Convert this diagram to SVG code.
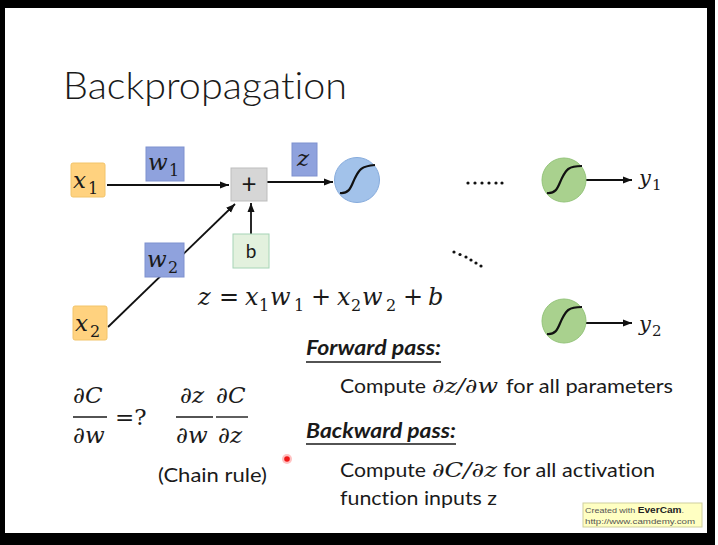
<svg xmlns="http://www.w3.org/2000/svg" width="718" height="545" viewBox="0 0 718 545">
<style>
.sans{font-family:Lato,"Liberation Sans",sans-serif;fill:#1a1a1a;font-variant-ligatures:none}
.math{font-family:"DejaVu Serif","Liberation Serif",serif;font-style:italic;fill:#1a1a1a}
.sub{font-family:"DejaVu Serif","Liberation Serif",serif;font-style:normal;fill:#1a1a1a}
.xbox{fill:#FFD27F;stroke:#F2C46A;stroke-width:1}
.wbox{fill:#8FA2DD;stroke:#7E91CF;stroke-width:1}
.conn{stroke:#111;stroke-width:1.8;fill:none}
.sig{stroke:#111;stroke-width:2.2;fill:none}
.frac{stroke:#1a1a1a;stroke-width:1.4}
</style>
<defs>
<marker id="ah" markerUnits="userSpaceOnUse" markerWidth="10" markerHeight="8" refX="9" refY="4" orient="auto">
<path d="M0,0.5 L9,4 L0,7.5 Z" fill="#111"/>
</marker>
</defs>
<rect x="0" y="0" width="718" height="545" fill="#000"/>
<rect x="5" y="8" width="702" height="525" fill="#fff"/>
<rect x="715" y="0" width="3" height="545" fill="#fff"/>

<text class="sans" x="63" y="99" font-size="38" font-weight="300" textLength="284" lengthAdjust="spacingAndGlyphs" fill="#222">Backpropagation</text>

<g id="connectors">
<line class="conn" x1="107" y1="185" x2="229" y2="185" marker-end="url(#ah)"/>
<line class="conn" x1="108" y1="327" x2="235" y2="204" marker-end="url(#ah)"/>
<line class="conn" x1="251" y1="234" x2="251" y2="203" marker-end="url(#ah)"/>
<line class="conn" x1="267" y1="182" x2="333" y2="182" marker-end="url(#ah)"/>
<line class="conn" x1="586" y1="180" x2="632" y2="180" marker-end="url(#ah)"/>
<line class="conn" x1="586" y1="323" x2="632" y2="323" marker-end="url(#ah)"/>
</g>

<g id="x1">
<rect class="xbox" x="71" y="163" width="34" height="34" rx="2"/>
<text class="math" x="73" y="188" font-size="23">x</text>
<text class="sub" x="88" y="194" font-size="16">1</text>
</g>
<g id="w1">
<rect class="wbox" x="146" y="147" width="38" height="34"/>
<text class="math" x="148" y="170" font-size="23">w</text>
<text class="sub" x="169" y="176" font-size="16">1</text>
</g>
<g id="plus">
<rect x="231" y="168" width="36" height="33" fill="#D6D6D6" stroke="#BDBDBD" stroke-width="1"/>
<text class="sans" x="249" y="193" font-size="26" text-anchor="middle" fill="#333">+</text>
</g>
<g id="z">
<rect class="wbox" x="292" y="143" width="25" height="33"/>
<text class="math" x="297" y="166" font-size="23">z</text>
</g>
<g id="sigma">
<circle cx="357" cy="180" r="22.5" fill="#A2C2EA" stroke="#86ABDC" stroke-width="1"/>
<path class="sig" d="M340,193 C350,194 351,186 355,178 C359,170 361,166 375,165"/>
</g>
<g id="b">
<rect x="233" y="234" width="36" height="34" fill="#E3F1DE" stroke="#A6D4B6" stroke-width="1"/>
<text class="sans" x="251" y="258" font-size="19" text-anchor="middle">b</text>
</g>
<g id="w2">
<rect class="wbox" x="145" y="243" width="39" height="34"/>
<text class="math" x="147" y="267" font-size="23">w</text>
<text class="sub" x="168" y="273" font-size="16">2</text>
</g>
<g id="x2">
<rect class="xbox" x="73" y="306" width="34" height="34" rx="2"/>
<text class="math" x="75" y="331" font-size="23">x</text>
<text class="sub" x="90" y="337" font-size="16">2</text>
</g>

<g id="formula">
<text class="math" x="198" y="305" font-size="24">z</text>
<text class="sub" x="219" y="305" font-size="24">=</text>
<text class="math" x="245" y="305" font-size="24">x</text>
<text class="sub" x="259" y="311" font-size="16">1</text>
<text class="math" x="270" y="305" font-size="24">w</text>
<text class="sub" x="294" y="311" font-size="16">1</text>
<text class="sub" x="311" y="305" font-size="24">+</text>
<text class="math" x="337" y="305" font-size="24">x</text>
<text class="sub" x="351" y="311" font-size="16">2</text>
<text class="math" x="362" y="305" font-size="24">w</text>
<text class="sub" x="386" y="311" font-size="16">2</text>
<text class="sub" x="403" y="305" font-size="24">+</text>
<text class="math" x="428" y="305" font-size="24">b</text>
</g>

<g id="dots">
<circle cx="468" cy="183" r="1.6" fill="#111"/><circle cx="475" cy="183" r="1.6" fill="#111"/><circle cx="482" cy="183" r="1.6" fill="#111"/><circle cx="489" cy="183" r="1.6" fill="#111"/><circle cx="496" cy="183" r="1.6" fill="#111"/><circle cx="502" cy="183" r="1.6" fill="#111"/>
<circle cx="454" cy="252" r="1.6" fill="#111"/><circle cx="460" cy="254.5" r="1.6" fill="#111"/><circle cx="466" cy="257" r="1.6" fill="#111"/><circle cx="471" cy="260" r="1.6" fill="#111"/><circle cx="476" cy="263" r="1.6" fill="#111"/><circle cx="481" cy="266" r="1.6" fill="#111"/>
</g>

<g id="out1">
<circle cx="564" cy="180" r="22" fill="#A9D18E" stroke="#94C47A" stroke-width="1"/>
<path class="sig" d="M547,193 C557,194 558,186 562,178 C566,170 568,166 582,166"/>
</g>
<g id="y1">
<text class="math" x="639" y="185" font-size="21">y</text>
<text class="sub" x="652" y="190" font-size="15">1</text>
</g>
<g id="out2">
<circle cx="564" cy="321" r="22" fill="#A9D18E" stroke="#94C47A" stroke-width="1"/>
<path class="sig" d="M547,334 C557,335 558,327 562,319 C566,311 568,307 582,307"/>
</g>
<g id="y2">
<text class="math" x="639" y="331" font-size="21">y</text>
<text class="sub" x="652" y="336" font-size="15">2</text>
</g>

<g id="chain">
<text class="math" x="73" y="403" font-size="23">∂C</text>
<line class="frac" x1="73" y1="417" x2="107" y2="417"/>
<text class="math" x="73" y="443" font-size="23">∂w</text>
<text class="sub" x="115" y="425" font-size="23">=?</text>
<text class="math" x="180" y="403" font-size="23">∂z</text>
<line class="frac" x1="176" y1="417" x2="213" y2="417"/>
<text class="math" x="176" y="443" font-size="23">∂w</text>
<text class="math" x="216" y="403" font-size="23">∂C</text>
<line class="frac" x1="216" y1="417" x2="248" y2="417"/>
<text class="math" x="218" y="443" font-size="23">∂z</text>
<text class="sans" x="158" y="482" font-size="20" textLength="109" lengthAdjust="spacingAndGlyphs">(Chain rule)</text>
</g>

<g id="pointer">
<circle cx="287" cy="459" r="5" fill="#FF9A9A" opacity="0.6"/>
<circle cx="287" cy="459" r="2.8" fill="#F01818"/>
</g>

<g id="forward">
<text class="sans" x="306" y="355" font-size="20" font-weight="bold" font-style="italic" textLength="135" lengthAdjust="spacingAndGlyphs">Forward pass:</text>
<line x1="306" y1="362" x2="441" y2="362" stroke="#1a1a1a" stroke-width="1.5"/>
<text class="sans" x="340" y="393" font-size="20" textLength="86" lengthAdjust="spacingAndGlyphs">Compute</text>
<text class="math" x="432" y="393" font-size="21" textLength="66" lengthAdjust="spacingAndGlyphs">∂z/∂w</text>
<text class="sans" x="506" y="393" font-size="20" textLength="167" lengthAdjust="spacingAndGlyphs">for all parameters</text>
</g>
<g id="backward">
<text class="sans" x="306" y="438" font-size="20" font-weight="bold" font-style="italic" textLength="150" lengthAdjust="spacingAndGlyphs">Backward pass:</text>
<line x1="306" y1="444" x2="456" y2="444" stroke="#1a1a1a" stroke-width="1.5"/>
<text class="sans" x="340" y="477" font-size="20" textLength="86" lengthAdjust="spacingAndGlyphs">Compute</text>
<text class="math" x="432" y="477" font-size="21" textLength="65" lengthAdjust="spacingAndGlyphs">∂C/∂z</text>
<text class="sans" x="503" y="477" font-size="20" textLength="152" lengthAdjust="spacingAndGlyphs">for all activation</text>
<text class="sans" x="340" y="505" font-size="20" textLength="157" lengthAdjust="spacingAndGlyphs">function inputs z</text>
</g>

<g id="watermark">
<rect x="583" y="503" width="119" height="24" fill="#FFFFC2" stroke="#CFCF9E" stroke-width="1"/>
<text x="585" y="513" font-family="'Liberation Sans',sans-serif" font-size="8" fill="#555" textLength="99" lengthAdjust="spacingAndGlyphs">Created with <tspan font-weight="bold" fill="#222" font-size="9">EverCam</tspan>.</text>
<text x="585" y="524" font-family="'Liberation Sans',sans-serif" font-size="8" fill="#555" textLength="110" lengthAdjust="spacingAndGlyphs">http://www.camdemy.com</text>
</g>
</svg>
